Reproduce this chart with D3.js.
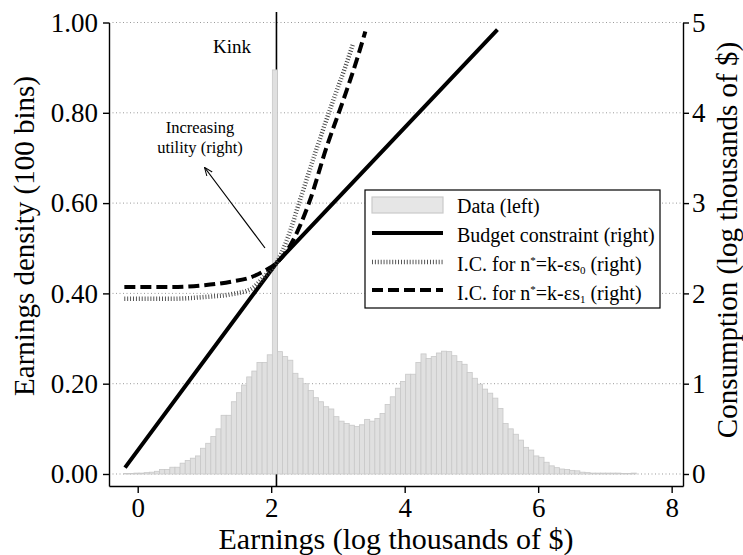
<!DOCTYPE html>
<html>
<head>
<meta charset="utf-8">
<script src="https://cdn.jsdelivr.net/npm/d3@7"></script>
<style>
  html, body { margin: 0; padding: 0; background: #fff; }
  text { font-family: "Liberation Serif", "Times New Roman", serif; fill: #000; }
</style>
</head>
<body>
<div id="chart"></div>
<script>
// histogram of log earnings, 100 bins (left axis)
const binStart = -0.21
const binWidth = 0.0768
const density = [
    0.001, 0.001, 0.002, 0.002, 0.003, 0.004, 0.006, 0.010, 0.010, 0.015,
    0.015, 0.024, 0.030, 0.035, 0.040, 0.057, 0.068, 0.083, 0.100, 0.130,
    0.130, 0.160, 0.180, 0.197, 0.215, 0.228, 0.247, 0.247, 0.264, 0.895,
    0.271, 0.260, 0.252, 0.223, 0.212, 0.200, 0.185, 0.169, 0.160, 0.149,
    0.144, 0.127, 0.117, 0.112, 0.108, 0.105, 0.109, 0.121, 0.117, 0.123,
    0.134, 0.154, 0.171, 0.190, 0.205, 0.221, 0.221, 0.247, 0.266, 0.256,
    0.260, 0.268, 0.272, 0.271, 0.262, 0.249, 0.243, 0.225, 0.212, 0.199,
    0.188, 0.179, 0.168, 0.145, 0.112, 0.100, 0.088, 0.075, 0.059, 0.053,
    0.040, 0.037, 0.026, 0.018, 0.014, 0.011, 0.010, 0.008, 0.007, 0.004,
    0.003, 0.002, 0.002, 0.002, 0.002, 0.002, 0.002, 0.001, 0.001, 0.002
]

// budget constraint (right axis)
const budgetX = [-0.19, 2.079, 5.39]
const budgetC = [0.07, 2.336, 4.92]

// indifference curves (right axis)
const ic0X = [-0.2, 0.5, 1.0, 1.4, 1.7, 1.9, 2.079, 2.25, 2.43, 2.68, 2.93, 3.13, 3.23]
const ic0C = [1.94, 1.94, 1.96, 1.99, 2.05, 2.19, 2.336, 2.62, 3.03, 3.60, 4.14, 4.55, 4.77]
const ic1X = [-0.2, 0.5, 1.0, 1.4, 1.7, 1.9, 2.079, 2.3, 2.58, 2.83, 3.08, 3.28, 3.41]
const ic1C = [2.07, 2.07, 2.09, 2.13, 2.18, 2.25, 2.336, 2.55, 3.03, 3.62, 4.14, 4.58, 4.90]

const kinkX = 2.079

const xTicks = [0, 2, 4, 6, 8]
const leftTicks = [0, 0.2, 0.4, 0.6, 0.8, 1.0]
const rightTicks = [0, 1, 2, 3, 4, 5]

const width = 743, height = 555

const svg = d3.select("#chart")
    .append("svg")
    .attr("width", width)
    .attr("height", height)

const x = d3.scaleLinear().domain([-0.43, 8.17]).range([109, 683])
const yL = d3.scaleLinear().domain([-0.0266, 1]).range([486, 22.5])
const yR = d3.scaleLinear().domain([-0.133, 5]).range([486, 22.5])

// dotted grid on left ticks
svg.append("g")
    .selectAll("line")
    .data(leftTicks)
    .join("line")
    .attr("x1", x.range()[0])
    .attr("x2", x.range()[1])
    .attr("y1", d => yL(d))
    .attr("y2", d => yL(d))
    .attr("stroke", "#9a9a9a")
    .attr("stroke-width", 1)
    .attr("stroke-dasharray", "1,2.5")

// kink marker
svg.append("line")
    .attr("x1", x(kinkX))
    .attr("x2", x(kinkX))
    .attr("y1", 12)
    .attr("y2", 486)
    .attr("stroke", "#000")
    .attr("stroke-width", 1.6)

// histogram bars
svg.append("g")
    .selectAll("rect")
    .data(density)
    .join("rect")
    .attr("x", (d, i) => x(binStart + i * binWidth))
    .attr("width", (d, i) => x(binStart + (i + 1) * binWidth) - x(binStart + i * binWidth))
    .attr("y", d => yL(d))
    .attr("height", d => yL(0) - yL(d))
    .attr("fill", "#e0e0e0")
    .attr("stroke", "#c8c8c8")
    .attr("stroke-width", 0.8)

const line = (xs, cs, curve) => d3.line()
    .x((d, i) => x(xs[i]))
    .y(d => yR(d))
    .curve(curve)(cs)

svg.append("path")
    .attr("d", line(budgetX, budgetC, d3.curveLinear))
    .attr("fill", "none")
    .attr("stroke", "#000")
    .attr("stroke-width", 4)

svg.append("path")
    .attr("d", line(ic0X, ic0C, d3.curveMonotoneX))
    .attr("fill", "none")
    .attr("stroke", "#444")
    .attr("stroke-width", 4.5)
    .attr("stroke-dasharray", "0.9,2")

svg.append("path")
    .attr("d", line(ic1X, ic1C, d3.curveMonotoneX))
    .attr("fill", "none")
    .attr("stroke", "#000")
    .attr("stroke-width", 4)
    .attr("stroke-dasharray", "11,5")

// axes
const xAxis = svg.append("g")
    .attr("transform", "translate(0,486)")
    .call(d3.axisBottom(x).tickValues(xTicks).tickFormat(d3.format("d")).tickSize(7).tickSizeOuter(0).tickPadding(5))

const leftAxis = svg.append("g")
    .attr("transform", "translate(109,0)")
    .call(d3.axisLeft(yL).tickValues(leftTicks).tickFormat(d3.format(".2f")).tickSize(6).tickSizeOuter(0).tickPadding(5))

const rightAxis = svg.append("g")
    .attr("transform", "translate(683,0)")
    .call(d3.axisRight(yR).tickValues(rightTicks).tickFormat(d3.format("d")).tickSize(6).tickSizeOuter(0).tickPadding(3))

svg.selectAll(".tick text")
    .style("font-size", "27px")
    .style("font-family", "'Liberation Serif', 'Times New Roman', serif")
svg.selectAll(".domain, .tick line")
    .attr("stroke", "#000")
    .attr("stroke-width", 1.4)

// titles
svg.append("text")
    .attr("x", 396)
    .attr("y", 549)
    .attr("text-anchor", "middle")
    .style("font-size", "30px")
    .text("Earnings (log thousands of $)")

svg.append("text")
    .attr("transform", "translate(34,236) rotate(-90)")
    .attr("text-anchor", "middle")
    .style("font-size", "29px")
    .text("Earnings density (100 bins)")

svg.append("text")
    .attr("transform", "translate(737,240) rotate(-90)")
    .attr("text-anchor", "middle")
    .style("font-size", "29px")
    .text("Consumption (log thousands of $)")

// annotations
svg.append("text")
    .attr("x", 232)
    .attr("y", 53)
    .attr("text-anchor", "middle")
    .style("font-size", "19px")
    .text("Kink")

svg.append("text")
    .attr("x", 200)
    .attr("y", 133)
    .attr("text-anchor", "middle")
    .style("font-size", "16.5px")
    .text("Increasing")

svg.append("text")
    .attr("x", 200)
    .attr("y", 153)
    .attr("text-anchor", "middle")
    .style("font-size", "16.5px")
    .text("utility (right)")

svg.append("defs").append("marker")
    .attr("id", "arrow")
    .attr("viewBox", "0 0 10 10")
    .attr("refX", 9)
    .attr("refY", 5)
    .attr("markerWidth", 7)
    .attr("markerHeight", 7)
    .attr("orient", "auto")
    .append("path")
    .attr("d", "M0,1 L10,5 L0,9")
    .attr("fill", "none")
    .attr("stroke", "#000")
    .attr("stroke-width", 1.2)

svg.append("line")
    .attr("x1", 265)
    .attr("y1", 248)
    .attr("x2", 205)
    .attr("y2", 168)
    .attr("stroke", "#000")
    .attr("stroke-width", 1.2)
    .attr("marker-end", "url(#arrow)")

// legend
const legend = svg.append("g")
legend.append("rect")
    .attr("x", 365)
    .attr("y", 190)
    .attr("width", 295)
    .attr("height", 118)
    .attr("fill", "#fff")
    .attr("stroke", "#000")
    .attr("stroke-width", 1.2)

legend.append("rect")
    .attr("x", 372).attr("y", 197).attr("width", 71).attr("height", 16)
    .attr("fill", "#e6e6e6").attr("stroke", "#cacaca").attr("stroke-width", 1.2)
legend.append("line")
    .attr("x1", 372).attr("x2", 443).attr("y1", 233).attr("y2", 233)
    .attr("stroke", "#000").attr("stroke-width", 4)
legend.append("line")
    .attr("x1", 372).attr("x2", 443).attr("y1", 262).attr("y2", 262)
    .attr("stroke", "#444").attr("stroke-width", 4.5).attr("stroke-dasharray", "0.9,2")
legend.append("line")
    .attr("x1", 372).attr("x2", 443).attr("y1", 290).attr("y2", 290)
    .attr("stroke", "#000").attr("stroke-width", 4).attr("stroke-dasharray", "11,5")

const lt = (y) => legend.append("text").attr("x", 457).attr("y", y).style("font-size", "20px")
lt(213).text("Data (left)")
lt(242).text("Budget constraint (right)")

const t0 = lt(271)
t0.append("tspan").text("I.C. for n")
t0.append("tspan").attr("dy", -7).style("font-size", "11px").text("*")
t0.append("tspan").attr("dy", 7).text("=k-εs")
t0.append("tspan").attr("dy", 3).style("font-size", "11px").text("0")
t0.append("tspan").attr("dy", -3).text(" (right)")

const t1 = lt(300)
t1.append("tspan").text("I.C. for n")
t1.append("tspan").attr("dy", -7).style("font-size", "11px").text("*")
t1.append("tspan").attr("dy", 7).text("=k-εs")
t1.append("tspan").attr("dy", 3).style("font-size", "11px").text("1")
t1.append("tspan").attr("dy", -3).text(" (right)")
</script>
</body>
</html>
